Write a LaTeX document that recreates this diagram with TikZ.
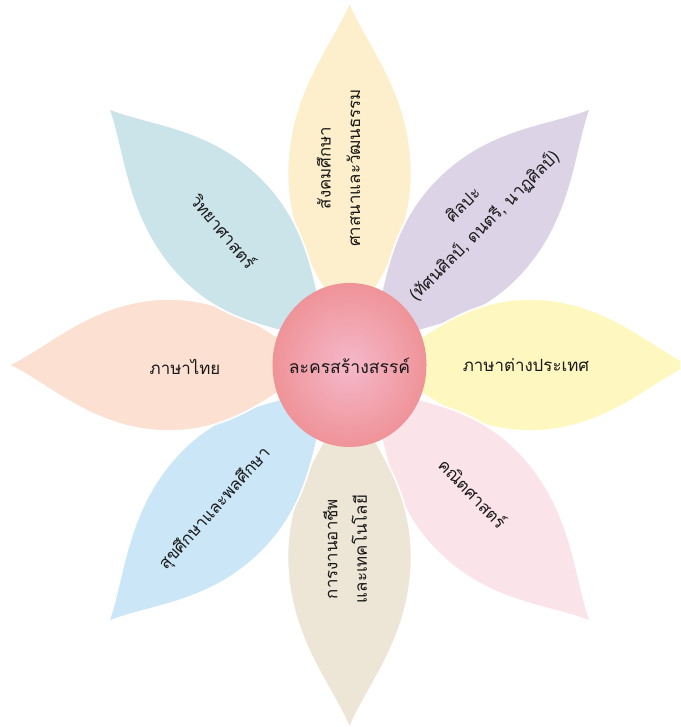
\documentclass[tikz,border=0pt]{standalone}
\usepackage{fontspec}
\newfontfamily\thaifont[Script=Thai]{Loma}
\definecolor{socialleaf}{HTML}{FDEFCB}
\definecolor{artsleaf}{HTML}{DCD3E7}
\definecolor{foreignleaf}{HTML}{FEF8C0}
\definecolor{mathleaf}{HTML}{FBE3EA}
\definecolor{careerleaf}{HTML}{EDE5D5}
\definecolor{healthleaf}{HTML}{CBE6F7}
\definecolor{thaileaf}{HTML}{FCE0D2}
\definecolor{scienceleaf}{HTML}{CBE4EA}
\definecolor{hubin}{HTML}{F5B8CA}
\definecolor{hubout}{HTML}{EF9398}
\begin{document}
\begin{tikzpicture}[x=0.025cm,y=0.025cm,
    petal/.pic={\path[pic actions] (25,0) .. controls (70,20) and (110,62) .. (180,62) .. controls (255,62) and (300,18) .. (341,0) .. controls (300,-18) and (255,-62) .. (180,-62) .. controls (110,-62) and (70,-20) .. (25,0) -- cycle;},
    leaf/.style={draw=white,line width=1.2pt,transform shape},
    subj/.style={font=\thaifont\fontsize{12}{21}\selectfont,align=center,text=black!90}]
    \begin{scope}[yscale=1.065]
        \useasboundingbox (-349.5,-339.9) rectangle (330.5,342.7);
        \clip (-349.5,-339.9) rectangle (330.5,342.7);
        \pic[leaf,fill=socialleaf,rotate=90] at (0,0) {petal};
        \pic[leaf,fill=artsleaf,rotate=45] at (0,0) {petal};
        \pic[leaf,fill=foreignleaf,rotate=0] at (0,0) {petal};
        \pic[leaf,fill=mathleaf,rotate=-45] at (0,0) {petal};
        \pic[leaf,fill=careerleaf,rotate=-90] at (0,0) {petal};
        \pic[leaf,fill=healthleaf,rotate=-135] at (0,0) {petal};
        \pic[leaf,fill=thaileaf,rotate=180] at (0,0) {petal};
        \pic[leaf,fill=scienceleaf,rotate=135] at (0,0) {petal};
        \shade[inner color=hubin,outer color=hubout] (0,0) circle (77);
        \node[subj,font=\thaifont\fontsize{12.5}{21}\selectfont] (hub) at (0,-1) {ละครสร้างสรรค์};
        \node[subj,rotate=90] (social) at (-11,185) {สังคมศึกษา\\ศาสนาและวัฒนธรรม};
        \node[subj,rotate=45] (arts) at (124.5,140) {ศิลปะ\\(ทัศนศิลป์, ดนตรี, นาฏศิลป์)};
        \node[subj] (foreign) at (176.5,0) {ภาษาต่างประเทศ};
        \node[subj,rotate=-46] (math) at (123.5,-120.2) {คณิตศาสตร์};
        \node[subj,rotate=90] (career) at (-4.5,-172.8) {การงานอาชีพ\\และเทคโนโลยี};
        \node[subj,rotate=48] (health) at (-134.5,-135.2) {สุขศึกษาและพลศึกษา};
        \node[subj] (thai) at (-164.5,-2) {ภาษาไทย};
        \node[subj,rotate=-50] (science) at (-125.5,125.8) {วิทยาศาสตร์};
    \end{scope}
    \end{tikzpicture}
\end{document}
